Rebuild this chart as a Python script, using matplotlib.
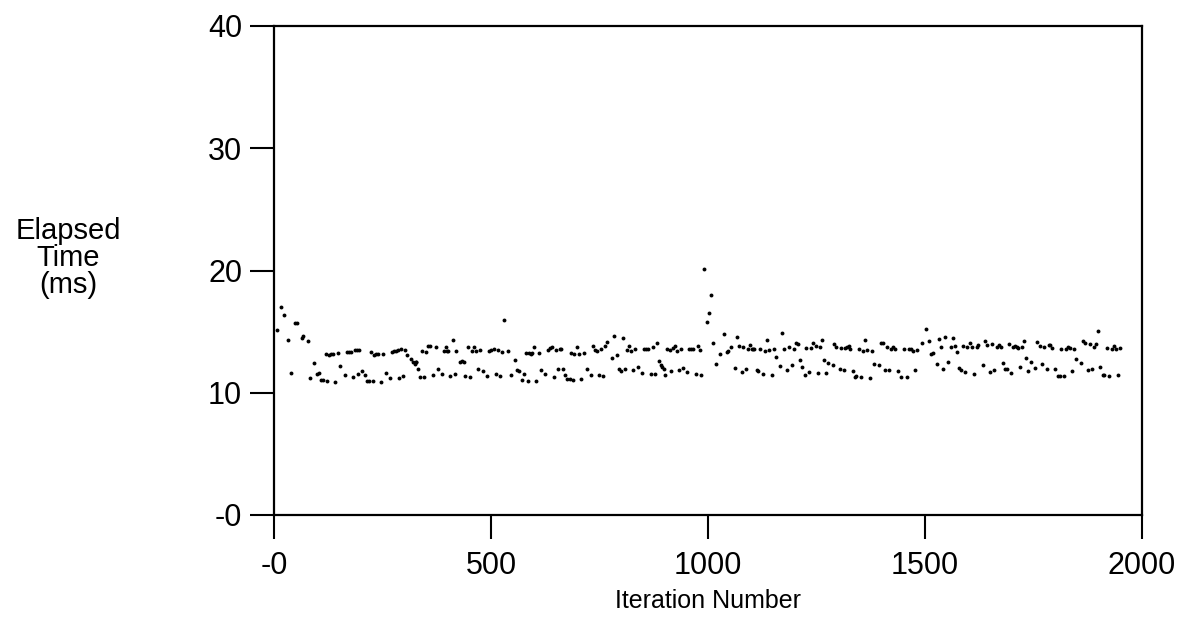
import matplotlib
matplotlib.use("Agg")
import matplotlib.pyplot as plt

# Iteration number (x) and elapsed time in ms (y)
iteration = [
    6.9, 16.9, 23.8, 32.3, 39.2, 49.2, 52.2, 64.5, 67.6, 78.3, 83.0, 92.2, 98.3, 102.9, 108.3,
    112.9, 119.8, 122.1, 126.0, 130.6, 136.7, 141.3, 148.2, 152.1, 162.8, 169.0, 173.6, 178.2,
    182.0, 187.4, 192.0, 196.6, 193.5, 202.8, 208.9, 215.0, 218.1, 227.3, 222.7, 230.4, 235.0,
    239.6, 247.3, 251.9, 258.1, 267.3, 271.9, 276.5, 281.1, 285.7, 287.2, 291.9, 297.2, 301.1,
    307.2, 314.9, 321.0, 324.1, 327.2,
    326.4, 331.0, 337.2, 344.9, 341.8, 351.0, 355.6, 360.2, 366.4, 372.5, 377.1, 386.3, 391.0,
    395.6, 398.6, 401.7, 406.3, 412.5, 417.1, 420.1, 427.8, 432.4, 437.0, 440.1, 446.2, 450.9,
    457.0, 460.1, 464.7, 470.8, 475.4, 481.6, 490.8, 495.4, 500.0, 506.1, 510.8, 515.4, 521.5,
    526.1, 530.7, 539.9, 546.1, 555.3, 559.9, 564.5, 570.7, 575.3, 581.4, 584.5, 587.6, 592.2,
    595.2, 599.8, 604.5, 610.6, 615.2, 624.4, 630.6, 635.2, 639.8, 644.4, 650.5, 655.1, 658.2,
    660.4, 665.1, 669.7, 675.8, 682.0, 685.0, 689.6, 691.2, 697.3, 703.5, 708.1, 714.2, 720.3,
    729.6, 734.2, 738.8, 743.4, 748.0, 752.6, 758.7, 761.8, 768.0, 778.7, 783.3, 789.5, 794.1,
    798.7, 803.3, 807.9, 812.5, 817.1, 821.7, 827.9, 832.5, 838.6, 847.8, 852.4, 857.1, 861.7,
    867.8, 872.4, 878.6, 883.2, 887.8, 890.8, 893.9, 898.5, 901.6, 906.2, 912.3, 913.9, 920.0,
    923.1, 927.7, 933.9, 938.5, 943.1, 952.3, 956.9, 961.5, 966.1, 972.3, 976.9, 981.5, 984.5,
    991.5, 997.6, 1002.2, 1006.8, 1011.4, 1017.6, 1026.8, 1036.0, 1043.7, 1046.8, 1052.9, 1062.1,
    1066.7, 1071.4, 1077.5, 1080.6, 1086.7, 1091.3, 1097.5, 1100.5, 1103.6, 1106.7, 1112.8,
    1115.9, 1120.5, 1126.6, 1131.3, 1135.9, 1140.5, 1148.2, 1152.8, 1157.4, 1166.6, 1171.2,
    1175.8, 1182.0, 1186.6, 1192.7, 1197.3, 1203.4, 1206.5, 1212.7, 1217.3, 1223.4, 1226.5,
    1232.6, 1237.2, 1241.8, 1248.0, 1252.6, 1257.2, 1261.8, 1268.0, 1271.0, 1277.2, 1287.9,
    1291.0, 1295.6, 1303.3, 1306.4, 1312.5, 1315.6,
    1319.4, 1324.1, 1327.1, 1333.3, 1337.9, 1340.9, 1347.1, 1353.2, 1357.8, 1362.5, 1367.1,
    1373.2, 1377.8, 1382.4, 1393.2, 1397.8, 1402.4, 1408.5, 1413.1, 1417.8, 1422.4, 1427.0,
    1431.6, 1437.7, 1443.9, 1451.5, 1457.7, 1462.3, 1466.9, 1471.5, 1477.7, 1482.3, 1493.0,
    1502.2, 1508.4, 1513.0, 1517.6, 1526.8, 1531.4, 1537.5, 1542.2, 1546.8, 1552.9, 1559.1,
    1563.7, 1568.3, 1572.9, 1579.0, 1582.1, 1586.7, 1592.9, 1597.5, 1603.6, 1608.2, 1612.8,
    1619.0, 1622.0, 1634.3, 1637.4, 1642.0,
    1649.0, 1653.5, 1659.7, 1665.8, 1670.4, 1675.1, 1679.7, 1684.3, 1688.9, 1693.5, 1698.1,
    1702.7, 1707.3, 1711.9, 1715.0, 1719.6, 1724.2, 1728.8, 1733.4, 1738.0, 1744.2, 1753.4,
    1758.0, 1764.1, 1768.8, 1773.4, 1781.0, 1785.6, 1788.7, 1793.3, 1799.5, 1805.6, 1810.2,
    1813.3, 1819.4, 1824.0, 1828.7, 1833.3, 1839.4, 1844.0, 1848.6, 1859.4, 1864.0, 1868.6,
    1874.7, 1879.3, 1884.0, 1888.6, 1894.7, 1899.3, 1903.9, 1910.1, 1913.1, 1919.3, 1923.9,
    1930.0, 1934.6, 1939.3, 1943.9, 1950.0,
]
elapsed_ms = [
    15.14, 17.04, 16.36, 14.32, 11.65, 15.68, 15.71, 14.51, 14.65, 14.21, 11.24, 12.46, 11.51,
    11.59, 11.05, 11.02, 13.17, 11.00, 13.06, 13.15, 13.17, 10.91, 13.28, 12.16, 11.43, 13.31,
    13.36, 13.34, 11.32, 13.50, 13.50, 13.50, 11.51, 11.81, 11.43, 10.96, 10.96, 10.96, 13.36,
    13.12, 13.17, 13.17, 10.91, 13.17, 11.65, 11.24, 13.31, 13.39, 13.45, 13.50, 11.24, 13.55,
    11.37, 13.50, 13.06, 12.79, 12.52, 12.35, 12.52,
    12.49, 11.92, 11.32, 11.32, 13.45, 13.34, 13.83, 13.85, 11.43, 13.77, 11.95, 11.54, 13.42,
    13.75, 13.45, 13.42, 11.40, 14.35, 11.51, 13.45, 12.52, 12.60, 12.49, 11.37, 13.72, 11.32,
    13.45, 13.77, 13.45, 11.95, 13.50, 11.81, 11.37, 13.39, 13.50, 13.55, 11.56, 13.50, 11.37,
    13.34, 15.98, 13.45, 11.43, 12.65, 11.86, 11.81, 11.07, 11.51, 13.28, 10.99, 13.23, 13.20,
    13.28, 13.72, 10.99, 13.25, 11.86, 11.51, 13.50, 13.66, 13.75, 11.32, 13.50, 11.95, 13.55,
    13.55, 11.97, 11.45, 11.16, 11.10, 13.28, 11.07, 13.17, 13.72, 13.20, 11.10, 13.25, 11.92,
    11.48, 13.80, 13.50, 13.39, 11.43, 13.58, 11.37, 13.83, 14.18, 12.87, 14.65, 13.06, 11.97,
    11.75, 14.45, 11.97, 13.53, 13.83, 13.45, 11.86, 13.55, 12.14, 11.59, 13.55, 13.58, 13.55,
    11.54, 13.77, 11.51, 14.05, 12.57, 12.30, 12.08, 11.97, 11.43, 13.55, 13.50, 11.81, 13.64,
    13.83, 13.45, 11.89, 13.61, 12.00, 11.70, 13.55, 13.55, 13.55, 11.54, 13.80, 13.50, 11.43,
    20.13, 15.82, 16.55, 18.03, 14.05, 12.33, 13.15, 14.81, 13.36, 13.42, 13.77, 12.03,
    14.56, 13.80, 11.70, 13.77, 11.92, 13.55, 13.88, 13.58, 13.58, 13.61, 11.89,
    11.81, 13.58, 11.51, 13.45, 14.35, 13.50, 11.43, 13.58, 12.93, 12.22, 14.92,
    13.58, 11.84, 13.72, 12.27, 13.55, 14.10, 13.99, 12.71, 12.14, 11.48, 13.69,
    11.70, 13.66, 14.10, 13.83, 11.62, 13.75, 14.32, 12.68, 11.62, 12.46, 12.27,
    13.99, 13.77, 11.92, 13.66, 11.86, 13.66,
    13.77, 13.83, 13.55, 11.81, 11.32, 11.37, 13.55, 11.26, 13.42, 14.32, 13.47,
    11.24, 13.42, 12.38, 12.27, 14.05, 14.10, 11.84, 13.75, 11.84, 13.55, 13.75,
    13.55, 11.78, 11.32, 13.55, 11.26, 13.58, 13.58, 13.45, 11.86, 13.50, 14.05,
    15.22, 14.21, 13.15, 13.23, 12.38, 14.37, 13.72, 11.97, 14.56, 12.55, 13.75,
    14.45, 13.80, 13.31, 12.00, 11.86, 13.83, 11.67, 13.72, 14.05, 13.75, 11.56,
    13.77, 13.94, 12.30, 14.26, 13.88,
    11.73, 13.96, 11.89, 13.77, 13.94, 13.77, 12.46, 11.97, 11.95, 13.96, 11.65,
    13.77, 13.83, 13.72, 13.66, 12.14, 13.72, 14.26, 12.85, 11.81, 12.49, 12.03,
    14.13, 13.80, 12.38, 13.72, 11.97, 13.88, 13.94, 13.64, 11.95, 11.40, 11.40,
    13.61, 11.37, 13.55, 13.77, 13.64, 11.81, 13.61, 12.79, 12.46, 14.24, 14.07,
    11.86, 13.96, 11.92, 13.77, 13.99, 15.03, 12.11, 11.46, 11.48, 13.64, 11.37,
    13.58, 13.83, 13.61, 11.43, 13.64,
]

x_ticks = [0, 500, 1000, 1500, 2000]
x_tick_labels = ["-0", "500", "1000", "1500", "2000"]
y_ticks = [0, 10, 20, 30, 40]
y_tick_labels = ["-0", "10", "20", "30", "40"]

plt.rcParams["font.family"] = ["Liberation Sans", "DejaVu Sans"]

fig = plt.figure(figsize=(11.89, 6.25), dpi=100)
ax = fig.add_axes([274 / 1189, 1 - 515 / 625, (1142 - 274) / 1189, (515 - 26) / 625])

ax.plot(iteration, elapsed_ms, linestyle="none", marker="o", markersize=2.8,
        color="black", markeredgewidth=0)

ax.set_xlim(0, 2000)
ax.set_ylim(0, 40)
ax.set_xticks(x_ticks)
ax.set_xticklabels(x_tick_labels)
ax.set_yticks(y_ticks)
ax.set_yticklabels(y_tick_labels)

for s in ax.spines.values():
    s.set_linewidth(1.6)
    s.set_color("black")

ax.tick_params(axis="both", direction="out", length=17, width=1.5, labelsize=22,
               colors="black")
ax.tick_params(axis="x", pad=9)
ax.tick_params(axis="y", pad=6)

ax.set_xlabel("Iteration Number", fontsize=18, labelpad=6)
fig.text(68 / 1189, 1 - 258 / 625, "Elapsed\nTime\n(ms)", ha="center", va="center",
         fontsize=21, linespacing=0.95)

fig.savefig("out.png", dpi=100, facecolor="white")
